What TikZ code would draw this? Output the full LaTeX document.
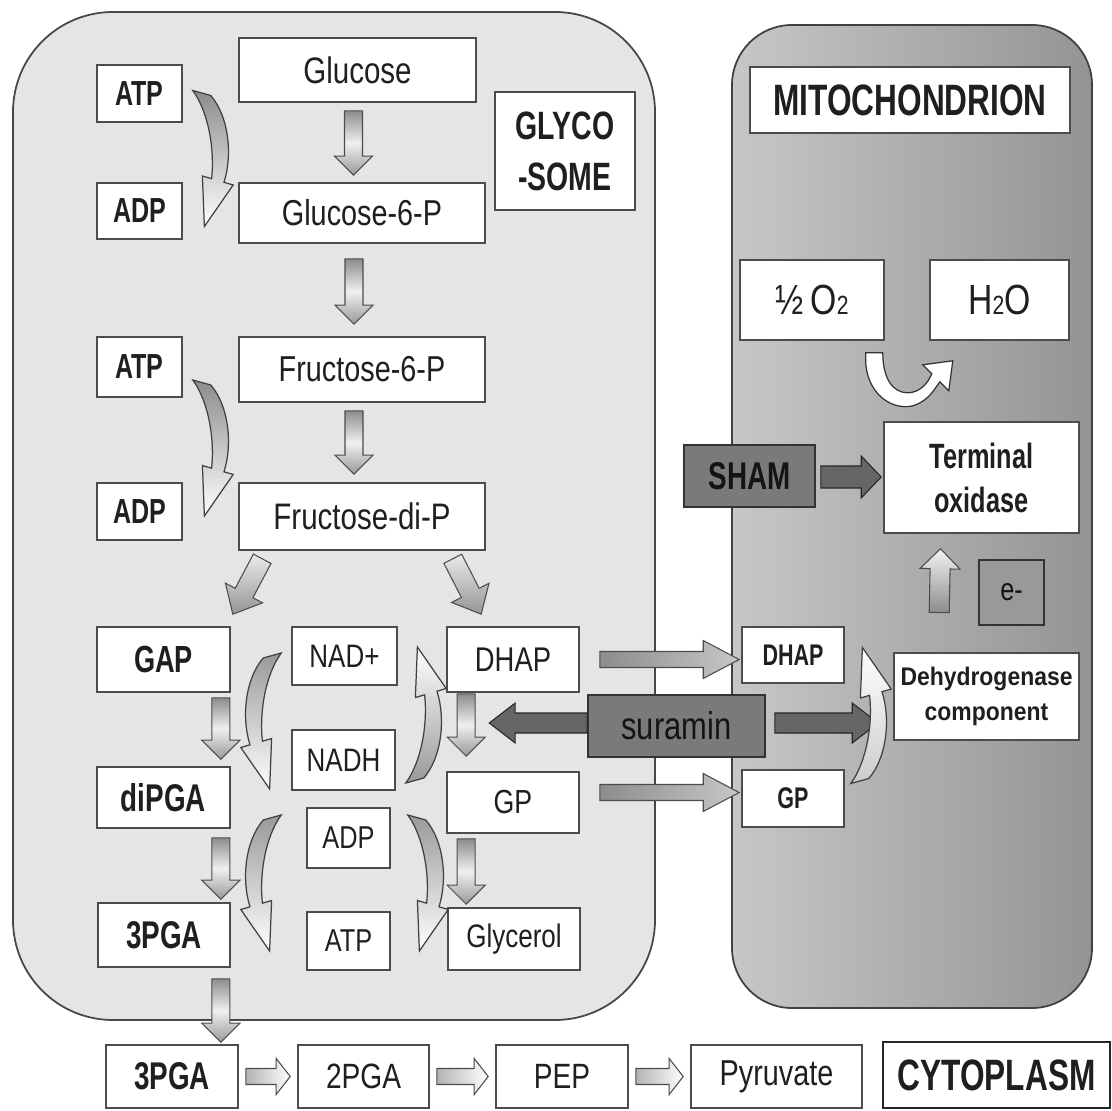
\documentclass[tikz,border=0pt]{standalone}
\usepackage{fontspec}
\usepackage{graphicx}
\setmainfont{Liberation Sans}
\newfontfamily\frg{Liberation Sans}[FakeStretch=0.8]
\newfontfamily\fbd{Liberation Sans}[FakeStretch=0.72]
\newfontfamily\fwid{Liberation Sans}[FakeStretch=0.9]
\usetikzlibrary{calc}
% box from (x1,y1) to (x2,y2) in pixel units (y downwards)
\newcommand\bx[7][]{\node[box, minimum width={(#4-#2)*0.02cm}, minimum height={(#5-#3)*0.02cm}, #1] (#6) at ({(#2+#4)/2},{(#3+#5)/2}) {#7};}
% block arrow: style, start, end, shaft half width, head half width, head length
\newcommand\blk[6]{%
  \path #2 coordinate (bkS) #3 coordinate (bkE);
  \coordinate (bkH) at ($(bkE)!#6!(bkS)$);
  \draw[#1] ($(bkS)!#4!90:(bkE)$) -- ($(bkH)!#4!90:(bkE)$) -- ($(bkH)!#5!90:(bkE)$) -- (bkE)
    -- ($(bkH)!#5!-90:(bkE)$) -- ($(bkH)!#4!-90:(bkE)$) -- ($(bkS)!#4!-90:(bkE)$) -- cycle;}
\tikzset{
  box/.style={draw=black!70, line width=0.9pt, fill=white, inner sep=0pt, align=center, text=black!88},
  greybox/.style={box, fill=black!52, draw=black!80, text=black!92},
  fr/.style={font=\frg\fontsize{#1}{#1}\selectfont},
  fb/.style={font=\fbd\bfseries\fontsize{#1}{#1}\selectfont},
  downarr/.style={draw=black!70, line width=0.6pt, top color=black!45, bottom color=black!40, middle color=black!6},
  diagarr/.style={draw=black!70, line width=0.6pt, top color=black!8, bottom color=black!42},
  transarr/.style={draw=black!70, line width=0.6pt, left color=black!45, right color=black!22},
  darkarr/.style={draw=black!85, line width=0.6pt, fill=black!60},
  rowarr/.style={draw=black!70, line width=0.6pt, left color=black!30, right color=white},
  uparr/.style={draw=black!70, line width=0.6pt, top color=black!5, bottom color=black!45},
  curvarr/.pic={\path[draw=black!75, line width=0.7pt, #1] (0,0) -- (18,5)
     .. controls (36,26) and (40,64) .. (31.2,91.8) -- (40.4,94.5) -- (11.6,136) -- (9.6,85.5) -- (18.8,88.2)
     .. controls (22,60) and (16,22) .. cycle;}
}
\begin{document}
\begin{tikzpicture}[x=0.02cm, y=-0.02cm]
\useasboundingbox (0,0) rectangle (1112,1111);
\fill[white] (0,0) rectangle (1112,1111);

% compartments
\draw[rounded corners=2cm, fill=black!10, draw=black!72, line width=1pt] (13,12) rectangle (655,1020);
\draw[rounded corners=1.2cm, left color=black!22, right color=black!42, draw=black!75, line width=1pt] (732,25) rectangle (1092,1008);

% glycosome nodes
\bx[fb=19.8]{97}{65}{182}{122}{atpA}{ATP}
\bx[fr=21]{239}{38}{476}{102}{glucose}{Glucose}
\bx[fb=19.8]{97}{183}{182}{239}{adpA}{ADP}
\bx[fr=20.5]{239}{183}{485}{243}{g6p}{Glucose-6-P}
\bx[font=\fbd\bfseries\fontsize{22.5}{29}\selectfont]{495}{92}{635}{210}{glyco}{GLYCO\\-SOME}
\bx[fb=19.8]{97}{337}{182}{397}{atpB}{ATP}
\bx[fr=20.5]{239}{337}{485}{402}{f6p}{Fructose-6-P}
\bx[fb=19.8]{97}{483}{182}{540}{adpB}{ADP}
\bx[fr=21]{239}{483}{485}{550}{fdp}{Fructose-di-P}
\bx[fb=21.5]{97}{627}{230}{692}{gap}{GAP}
\bx[fr=18.5]{292}{627}{397}{685}{nad}{NAD+}
\bx[fr=19.5]{447}{627}{579}{692}{dhapL}{DHAP}
\bx[fr=18.5]{292}{730}{395}{790}{nadh}{NADH}
\bx[fb=22]{97}{767}{230}{828}{dipga}{diPGA}
\bx[fr=19]{447}{772}{579}{833}{gpL}{GP}
\bx[fr=18]{307}{808}{390}{868}{adpM}{ADP}
\bx[fb=22]{98}{903}{230}{967}{pgaA}{3PGA}
\bx[fr=18]{307}{912}{390}{970}{atpM}{ATP}
\bx[fr=18.5]{448}{908}{580}{970}{glycerol}{Glycerol}

% mitochondrion nodes
\bx[fb=25]{750}{67}{1070}{133}{mito}{MITOCHONDRION}
\bx[fr=24]{740}{260}{884}{340}{oo}{½\,O{\fontsize{15}{15}\selectfont 2}}
\bx[fr=24]{930}{260}{1069}{340}{hho}{H{\fontsize{15}{15}\selectfont 2}O}
\bx[font=\fbd\bfseries\fontsize{20}{25}\selectfont]{884}{422}{1079}{533}{term}{Terminal\\oxidase}
\bx[greybox, fb=22]{684}{445}{815}{507}{sham}{SHAM}
\bx[greybox, fill=black!40, fr=18]{979}{560}{1044}{625}{eminus}{e-}
\bx[fb=17]{742}{627}{844}{683}{dhapR}{DHAP}
\bx[font=\fwid\bfseries\fontsize{14.5}{20}\selectfont]{894}{653}{1079}{740}{dehyd}{Dehydrogenase\\component}
\bx[greybox, fr=22]{588}{695}{765}{757}{suramin}{suramin}
\bx[fb=17]{742}{770}{844}{827}{gpR}{GP}

% cytoplasm row
\bx[fb=22]{106}{1045}{238}{1108}{pgaC}{3PGA}
\bx[fr=20]{298}{1045}{429}{1108}{pga2}{2PGA}
\bx[fr=20]{496}{1045}{628}{1108}{pep}{PEP}
\bx[fr=20.5]{691}{1045}{862}{1108}{pyr}{Pyruvate}
\bx[fb=25, line width=1.5pt, draw=black!85]{883}{1042}{1110}{1108}{cyto}{CYTOPLASM}

% straight block arrows (glycolysis)
\blk{downarr}{($(glucose.south)+(-4,8)$)}{($(glucose.south |- g6p.north)+(-4,-7)$)}{0.18cm}{0.38cm}{0.38cm}
\blk{downarr}{($(g6p.south)+(-8,15)$)}{($(g6p.south |- f6p.north)+(-8,-12)$)}{0.18cm}{0.38cm}{0.38cm}
\blk{downarr}{($(f6p.south)+(-8,8)$)}{($(f6p.south |- fdp.north)+(-8,-8)$)}{0.18cm}{0.38cm}{0.38cm}
\blk{diagarr}{($(fdp.south west)+(24,8)$)}{($(gap.north east)+(2,-12)$)}{0.2cm}{0.42cm}{0.48cm}
\blk{diagarr}{($(fdp.south east)+(-33,8)$)}{($(dhapL.north west)+(35,-12)$)}{0.2cm}{0.42cm}{0.48cm}
\blk{downarr}{($(gap.south east)+(-10,5)$)}{($(gap.south east |- dipga.north)+(-10,-7)$)}{0.18cm}{0.38cm}{0.38cm}
\blk{downarr}{($(dipga.south east)+(-10,9)$)}{($(dipga.south east |- pgaA.north)+(-10,-3)$)}{0.18cm}{0.38cm}{0.38cm}
\blk{downarr}{($(pgaA.south east)+(-10,11)$)}{($(pgaA.south east |- pgaC.north)+(-10,-2)$)}{0.18cm}{0.38cm}{0.38cm}
\blk{downarr}{($(dhapL.south west)+(20,1)$)}{($(dhapL.south west |- gpL.north)+(20,-15)$)}{0.18cm}{0.38cm}{0.38cm}
\blk{downarr}{($(gpL.south west)+(20,5)$)}{($(gpL.south west |- glycerol.north)+(20,-3)$)}{0.18cm}{0.38cm}{0.38cm}

% transport arrows
\blk{transarr}{($(dhapL.east)+(20,0)$)}{($(dhapR.west |- dhapL.east)+(-2,0)$)}{0.16cm}{0.38cm}{0.72cm}
\blk{transarr}{($(gpL.east)+(20,-10)$)}{($(gpR.west |- gpL.east)+(-2,-10)$)}{0.16cm}{0.38cm}{0.72cm}

% inhibitor arrows
\blk{darkarr}{($(suramin.west)+(0,-3)$)}{($(suramin.west -| dhapL.south west)+(43,-3)$)}{0.2cm}{0.4cm}{0.52cm}
\blk{darkarr}{($(suramin.east)+(9,-3)$)}{($(suramin.east -| dehyd.west)+(-15,-3)$)}{0.2cm}{0.4cm}{0.52cm}
\blk{darkarr}{($(sham.east)+(5,1)$)}{($(term.west |- sham.east)+(-2,1)$)}{0.22cm}{0.42cm}{0.4cm}

% electron arrow
\blk{uparr}{($(eminus.west)+(-39,20)$)}{($(term.south)+(-41,15)$)}{0.2cm}{0.4cm}{0.4cm}

% cytoplasm row arrows
\blk{rowarr}{($(pgaC.east)+(7,0)$)}{($(pga2.west)+(-7,0)$)}{0.16cm}{0.36cm}{0.28cm}
\blk{rowarr}{($(pga2.east)+(7,0)$)}{($(pep.west)+(-7,0)$)}{0.16cm}{0.36cm}{0.28cm}
\blk{rowarr}{($(pep.east)+(7,0)$)}{($(pyr.west)+(-7,0)$)}{0.16cm}{0.36cm}{0.28cm}

% curved co-substrate arrows
\pic at ($(atpA.east)+(10,-3)$) {curvarr={top color=black!45, bottom color=white}};
\pic at ($(atpB.east)+(10,13)$) {curvarr={top color=black!45, bottom color=white}};
\pic[xscale=-1] at ($(nad.west)+(-10,-3)$) {curvarr={top color=black!40, bottom color=white}};
\pic[yscale=-1] at ($(nadh.east)+(10,23)$) {curvarr={top color=white, bottom color=black!40}};
\pic[xscale=-1] at ($(adpM.west)+(-25,-23)$) {curvarr={top color=black!40, bottom color=white}};
\pic at ($(adpM.east)+(17,-23)$) {curvarr={top color=black!40, bottom color=white}};
\pic[yscale=-1] at ($(gpR.east)+(6,-15)$) {curvarr={top color=white, bottom color=black!20}};

% O2 -> H2O U-turn arrow
\begin{scope}[shift={(oo.south east)}]
\draw[draw=black!80, line width=0.7pt, fill=white] (-19,12)
  .. controls (-22,55) and (11,72) .. (31,64)
  .. controls (44,59) and (50,48) .. (55,41) -- (64,50) -- (68,20) -- (38,24) -- (47,33)
  .. controls (42,45) and (33,52) .. (23,52)
  .. controls (8,52) and (-2,38) .. (-2,12) -- cycle;
\end{scope}
\end{tikzpicture}
\end{document}
